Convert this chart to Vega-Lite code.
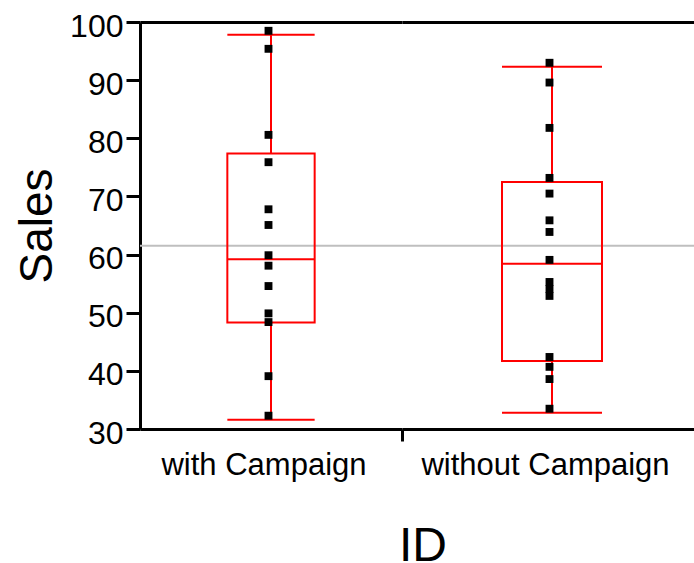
{
  "$schema": "https://vega.github.io/schema/vega-lite/v6.json",
  "autosize": {"type": "none"},
  "padding": {"left": 140, "top": 22, "right": 554, "bottom": 541},
  "datasets": {
    "points": [
      {"ID": "with Campaign", "Sales": 97.8},
      {"ID": "with Campaign", "Sales": 94.7},
      {"ID": "with Campaign", "Sales": 79.9},
      {"ID": "with Campaign", "Sales": 75.2},
      {"ID": "with Campaign", "Sales": 67.1},
      {"ID": "with Campaign", "Sales": 64.4},
      {"ID": "with Campaign", "Sales": 59.2},
      {"ID": "with Campaign", "Sales": 57.4},
      {"ID": "with Campaign", "Sales": 53.9},
      {"ID": "with Campaign", "Sales": 49.2},
      {"ID": "with Campaign", "Sales": 47.7},
      {"ID": "with Campaign", "Sales": 38.4},
      {"ID": "with Campaign", "Sales": 31.6},
      {"ID": "without Campaign", "Sales": 92.3},
      {"ID": "without Campaign", "Sales": 88.9},
      {"ID": "without Campaign", "Sales": 81.1},
      {"ID": "without Campaign", "Sales": 72.5},
      {"ID": "without Campaign", "Sales": 69.8},
      {"ID": "without Campaign", "Sales": 65.2},
      {"ID": "without Campaign", "Sales": 63.2},
      {"ID": "without Campaign", "Sales": 58.4},
      {"ID": "without Campaign", "Sales": 54.6},
      {"ID": "without Campaign", "Sales": 53.4},
      {"ID": "without Campaign", "Sales": 52.2},
      {"ID": "without Campaign", "Sales": 41.7},
      {"ID": "without Campaign", "Sales": 40.0},
      {"ID": "without Campaign", "Sales": 37.9},
      {"ID": "without Campaign", "Sales": 32.8}
    ],
    "summary": [
      {"ID": "with Campaign", "n": 13, "min": 31.6, "q1": 48.3, "median": 59.2, "q3": 77.4, "max": 97.8},
      {"ID": "without Campaign", "n": 15, "min": 32.8, "q1": 41.7, "median": 58.4, "q3": 72.5, "max": 92.3}
    ],
    "overall": [{"label": "grand mean", "Sales": 61.5}]
  },
  "config": {
    "view": {"stroke": null},
    "font": "Liberation Sans"
  },
  "spacing": 0,
  "bounds": "flush",
  "resolve": {"scale": {"x": "independent", "y": "independent"}},
  "hconcat": [
    {
      "width": 262,
      "height": 407,
      "layer": [
        {
          "data": {"name": "overall"},
          "mark": {"type": "rule", "color": "#bfbfbf", "strokeWidth": 2},
          "encoding": {
            "y": {
              "field": "Sales", "type": "quantitative",
              "scale": {"domain": [30, 100], "nice": false, "zero": false},
              "axis": {
                "title": "Sales", "titleX": -88.8, "titleY": 203.5, "titleAngle": -90,
                "titleBaseline": "alphabetic", "titleAlign": "center",
                "titleFont": "Liberation Sans", "titleFontSize": 46, "titleFontWeight": "normal", "titleColor": "black",
                "values": [30, 40, 50, 60, 70, 80, 90, 100],
                "labelFont": "Liberation Sans", "labelFontSize": 32, "labelColor": "black",
                "labelPadding": 3, "labelOffset": 4,
                "tickSize": 14, "tickWidth": 3, "tickColor": "black",
                "domainColor": "black", "domainWidth": 3,
                "grid": true, "gridColor": "black", "gridWidth": 3,
                "gridOpacity": {"condition": {"test": "datum.value === 100", "value": 1}, "value": 0}
              }
            }
          }
        },
        {
          "data": {"name": "summary"},
          "transform": [{"filter": "datum.ID === 'with Campaign'"}],
          "mark": {"type": "rule", "color": "red", "strokeWidth": 2},
          "encoding": {
            "x": {
              "field": "ID", "type": "nominal",
              "scale": {"type": "band", "paddingInner": 0, "paddingOuter": 0},
              "axis": {
                "title": "ID", "titleX": 282.5, "titleY": 93, "titleBaseline": "top", "titleAlign": "center",
                "titleFont": "Liberation Sans", "titleFontSize": 48, "titleFontWeight": "normal", "titleColor": "black",
                "labelFont": "Liberation Sans", "labelFontSize": 31, "labelColor": "black", "labelAngle": 0,
                "labelPadding": 9, "labelOffset": -7, "labelLimit": 0,
                "tickSize": 12, "tickWidth": 3, "tickColor": "transparent",
                "domainColor": "black", "domainWidth": 3, "grid": false
              }
            },
            "y": {"field": "q3", "type": "quantitative"},
            "y2": {"field": "max"}
          }
        },
        {
          "data": {"name": "summary"},
          "transform": [{"filter": "datum.ID === 'with Campaign'"}],
          "mark": {"type": "rule", "color": "red", "strokeWidth": 2},
          "encoding": {
            "x": {"field": "ID", "type": "nominal"},
            "y": {"field": "min", "type": "quantitative"},
            "y2": {"field": "q1"}
          }
        },
        {
          "data": {"name": "summary"},
          "transform": [{"filter": "datum.ID === 'with Campaign'"}],
          "mark": {"type": "bar", "fill": "transparent", "stroke": "red", "strokeWidth": 2, "width": {"band": 0.3333}},
          "encoding": {
            "x": {"field": "ID", "type": "nominal"},
            "y": {"field": "q1", "type": "quantitative"},
            "y2": {"field": "q3"}
          }
        },
        {
          "data": {"name": "summary"},
          "transform": [{"filter": "datum.ID === 'with Campaign'"}],
          "mark": {"type": "tick", "orient": "horizontal", "color": "red", "opacity": 1, "thickness": 2, "size": 87.3},
          "encoding": {
            "x": {"field": "ID", "type": "nominal"},
            "y": {"field": "median", "type": "quantitative"}
          }
        },
        {
          "data": {"name": "summary"},
          "transform": [{"filter": "datum.ID === 'with Campaign'"}],
          "mark": {"type": "tick", "orient": "horizontal", "color": "red", "opacity": 1, "thickness": 2, "size": 87.3},
          "encoding": {
            "x": {"field": "ID", "type": "nominal"},
            "y": {"field": "max", "type": "quantitative"}
          }
        },
        {
          "data": {"name": "summary"},
          "transform": [{"filter": "datum.ID === 'with Campaign'"}],
          "mark": {"type": "tick", "orient": "horizontal", "color": "red", "opacity": 1, "thickness": 2, "size": 87.3},
          "encoding": {
            "x": {"field": "ID", "type": "nominal"},
            "y": {"field": "min", "type": "quantitative"}
          }
        },
        {
          "data": {"name": "points"},
          "transform": [{"filter": "datum.ID === 'with Campaign'"}],
          "mark": {"type": "square", "size": 62, "color": "black", "opacity": 1, "xOffset": -2.5, "yOffset": -4},
          "encoding": {
            "x": {"field": "ID", "type": "nominal"},
            "y": {"field": "Sales", "type": "quantitative"}
          }
        }
      ]
    },
    {
      "width": 300,
      "height": 407,
      "layer": [
        {
          "data": {"name": "overall"},
          "mark": {"type": "rule", "color": "#bfbfbf", "strokeWidth": 2},
          "encoding": {
            "y": {
              "field": "Sales", "type": "quantitative",
              "scale": {"domain": [30, 100], "nice": false, "zero": false},
              "axis": {
                "title": null, "values": [100], "labels": false, "ticks": false, "domain": false,
                "grid": true, "gridColor": "black", "gridWidth": 3, "gridOpacity": 1
              }
            }
          }
        },
        {
          "data": {"name": "summary"},
          "transform": [{"filter": "datum.ID === 'without Campaign'"}],
          "mark": {"type": "rule", "color": "red", "strokeWidth": 2},
          "encoding": {
            "x": {
              "field": "ID", "type": "nominal",
              "scale": {"type": "band", "paddingInner": 0, "paddingOuter": 0},
              "axis": {
                "title": null,
                "labelFont": "Liberation Sans", "labelFontSize": 31, "labelColor": "black", "labelAngle": 0,
                "labelPadding": 9, "labelOffset": -7, "labelLimit": 0,
                "tickBand": "extent", "tickSize": 12, "tickWidth": 3, "tickColor": "black",
                "domainColor": "black", "domainWidth": 3, "grid": false
              }
            },
            "y": {"field": "q3", "type": "quantitative"},
            "y2": {"field": "max"}
          }
        },
        {
          "data": {"name": "summary"},
          "transform": [{"filter": "datum.ID === 'without Campaign'"}],
          "mark": {"type": "rule", "color": "red", "strokeWidth": 2},
          "encoding": {
            "x": {"field": "ID", "type": "nominal"},
            "y": {"field": "min", "type": "quantitative"},
            "y2": {"field": "q1"}
          }
        },
        {
          "data": {"name": "summary"},
          "transform": [{"filter": "datum.ID === 'without Campaign'"}],
          "mark": {"type": "bar", "fill": "transparent", "stroke": "red", "strokeWidth": 2, "width": {"band": 0.3333}},
          "encoding": {
            "x": {"field": "ID", "type": "nominal"},
            "y": {"field": "q1", "type": "quantitative"},
            "y2": {"field": "q3"}
          }
        },
        {
          "data": {"name": "summary"},
          "transform": [{"filter": "datum.ID === 'without Campaign'"}],
          "mark": {"type": "tick", "orient": "horizontal", "color": "red", "opacity": 1, "thickness": 2, "size": 100},
          "encoding": {
            "x": {"field": "ID", "type": "nominal"},
            "y": {"field": "median", "type": "quantitative"}
          }
        },
        {
          "data": {"name": "summary"},
          "transform": [{"filter": "datum.ID === 'without Campaign'"}],
          "mark": {"type": "tick", "orient": "horizontal", "color": "red", "opacity": 1, "thickness": 2, "size": 100},
          "encoding": {
            "x": {"field": "ID", "type": "nominal"},
            "y": {"field": "max", "type": "quantitative"}
          }
        },
        {
          "data": {"name": "summary"},
          "transform": [{"filter": "datum.ID === 'without Campaign'"}],
          "mark": {"type": "tick", "orient": "horizontal", "color": "red", "opacity": 1, "thickness": 2, "size": 100},
          "encoding": {
            "x": {"field": "ID", "type": "nominal"},
            "y": {"field": "min", "type": "quantitative"}
          }
        },
        {
          "data": {"name": "points"},
          "transform": [{"filter": "datum.ID === 'without Campaign'"}],
          "mark": {"type": "square", "size": 62, "color": "black", "opacity": 1, "xOffset": -2.5, "yOffset": -4},
          "encoding": {
            "x": {"field": "ID", "type": "nominal"},
            "y": {"field": "Sales", "type": "quantitative"}
          }
        }
      ]
    }
  ]
}
